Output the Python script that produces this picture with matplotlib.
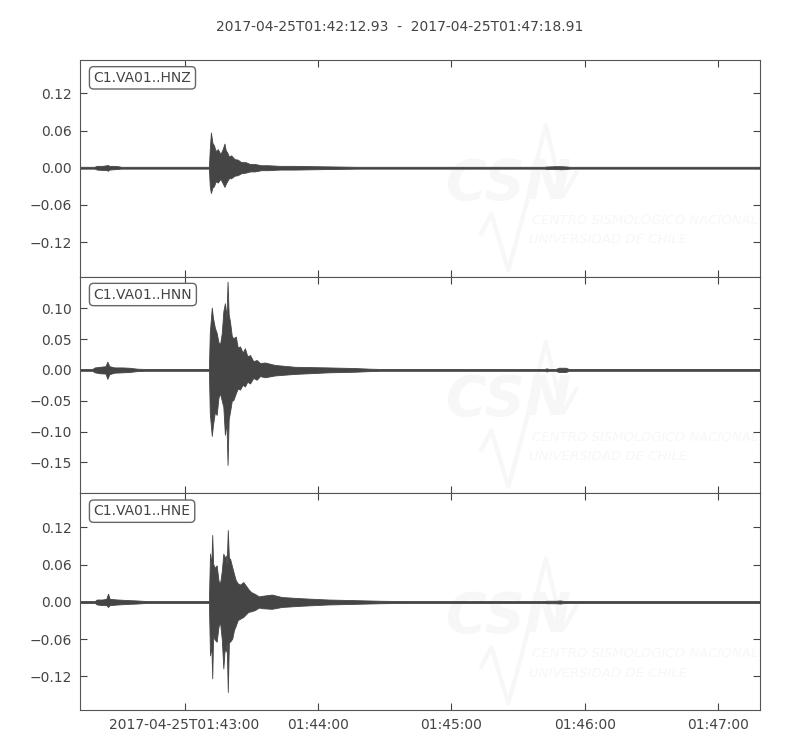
"""Three-component strong-motion record of C1.VA01 (HNZ / HNN / HNE)."""

from datetime import datetime, timedelta

import matplotlib
matplotlib.use("Agg")
import matplotlib.dates as mdates
import matplotlib.pyplot as plt
import numpy as np

STARTTIME = datetime(2017, 4, 25, 1, 42, 12, 930000)
ENDTIME = datetime(2017, 4, 25, 1, 47, 18, 910000)
TITLE = "2017-04-25T01:42:12.93  -  2017-04-25T01:47:18.91"

CHANNELS = ["C1.VA01..HNZ", "C1.VA01..HNN", "C1.VA01..HNE"]

# envelope of each trace: seconds after start, max, min
HNZ_T = [0, 6.5, 7.6, 10.0, 12.1, 12.6, 13.1, 15.0, 17.1, 18.5, 58.0, 58.4,
         58.9, 59.6, 60.3, 61.0, 62.0, 63.2, 64.2, 65.0, 65.6, 66.2, 67.0,
         68.0, 69.5, 71.0, 72.5, 74.5, 76.5, 78.7, 81.5, 84.6, 90.0, 96.7,
         105.0, 115.0, 125.0, 209.0, 210.1, 214.0, 216.5, 219.0, 220.5, 305.98]
HNZ_MAX = [0.0015, 0.0015, 0.003, 0.003, 0.004, 0.0045, 0.003, 0.003, 0.0025,
           0.0015, 0.0015, 0.030, 0.057, 0.040, 0.036, 0.027, 0.030, 0.022,
           0.030, 0.039, 0.028, 0.025, 0.018, 0.020, 0.014, 0.013, 0.009,
           0.009, 0.006, 0.006, 0.004, 0.004, 0.003, 0.003, 0.0025, 0.002,
           0.0015, 0.0015, 0.002, 0.0025, 0.0025, 0.002, 0.0015, 0.0015]
HNZ_MIN = [-0.0015, -0.0015, -0.003, -0.0035, -0.004, -0.005, -0.003, -0.0025,
           -0.002, -0.0015, -0.0015, -0.030, -0.041, -0.032, -0.030, -0.022,
           -0.024, -0.018, -0.025, -0.031, -0.026, -0.022, -0.017, -0.017,
           -0.013, -0.012, -0.009, -0.008, -0.006, -0.006, -0.004, -0.004,
           -0.003, -0.003, -0.0025, -0.002, -0.0015, -0.0015, -0.002, -0.002,
           -0.0025, -0.002, -0.0015, -0.0015]

HNN_T = [0, 5.5, 6.7, 9.0, 11.5, 12.3, 13.2, 15.5, 19.0, 22.0, 25.6, 29.0,
         58.0, 58.4, 59.3, 59.8, 60.7, 61.5, 62.3, 63.0, 63.8, 64.5, 65.2,
         65.9, 66.4, 66.9, 67.5, 68.3, 69.0, 70.1, 71.0, 72.0, 73.2, 74.2,
         75.3, 76.5, 78.0, 79.5, 81.0, 83.2, 87.7, 96.7, 111.6, 123.7, 130.0,
         135.0, 209.0, 210.0, 211.0, 214.0, 215.5, 218.5, 220.0, 305.98]
HNN_MAX = [0.0015, 0.0015, 0.004, 0.005, 0.006, 0.0135, 0.006, 0.004, 0.004,
           0.0035, 0.002, 0.0015, 0.0015, 0.060, 0.101, 0.085, 0.068, 0.060,
           0.045, 0.041, 0.060, 0.095, 0.108, 0.085, 0.143, 0.090, 0.078,
           0.055, 0.051, 0.054, 0.036, 0.038, 0.028, 0.035, 0.022, 0.024,
           0.014, 0.016, 0.011, 0.012, 0.008, 0.005, 0.004, 0.003, 0.002,
           0.0015, 0.0015, 0.0025, 0.0015, 0.0015, 0.0035, 0.0035, 0.0015,
           0.0015]
HNN_MIN = [-0.0015, -0.0015, -0.004, -0.0055, -0.006, -0.0146, -0.007, -0.0045,
           -0.004, -0.0035, -0.002, -0.0015, -0.0015, -0.070, -0.107, -0.090,
           -0.068, -0.073, -0.045, -0.038, -0.050, -0.060, -0.105, -0.085,
           -0.154, -0.080, -0.068, -0.050, -0.049, -0.038, -0.030, -0.032,
           -0.024, -0.027, -0.019, -0.022, -0.013, -0.016, -0.010, -0.012,
           -0.009, -0.0065, -0.004, -0.003, -0.002, -0.0015, -0.0015, -0.0025,
           -0.0015, -0.0015, -0.0035, -0.0035, -0.0015, -0.0015]

HNE_T = [0, 6.7, 7.6, 10.0, 11.8, 12.6, 13.4, 17.0, 22.0, 25.6, 30.0, 58.0,
         58.5, 59.1, 59.5, 59.9, 60.5, 61.5, 62.3, 63.0, 63.8, 64.5, 65.2,
         65.6, 66.0, 66.5, 67.0, 67.5, 68.5, 69.3, 70.1, 71.0, 72.0, 73.5,
         75.7, 77.0, 78.7, 80.5, 82.0, 86.3, 90.8, 99.8, 111.6, 123.7, 135.0,
         145.0, 209.0, 210.1, 214.0, 216.0, 218.0, 305.98]
HNE_MAX = [0.0015, 0.0015, 0.004, 0.004, 0.005, 0.0134, 0.005, 0.004, 0.003,
           0.0025, 0.0015, 0.0015, 0.078, 0.060, 0.108, 0.062, 0.055, 0.059,
           0.035, 0.029, 0.050, 0.078, 0.070, 0.075, 0.060, 0.116, 0.070,
           0.070, 0.056, 0.045, 0.035, 0.030, 0.028, 0.032, 0.021, 0.016,
           0.013, 0.009, 0.010, 0.012, 0.008, 0.006, 0.004, 0.003, 0.002,
           0.0015, 0.0015, 0.002, 0.002, 0.0025, 0.0015, 0.0015]
HNE_MIN = [-0.0015, -0.0015, -0.004, -0.005, -0.005, -0.008, -0.005, -0.004,
           -0.003, -0.0025, -0.0015, -0.0015, -0.086, -0.070, -0.123, -0.054,
           -0.060, -0.064, -0.040, -0.032, -0.060, -0.107, -0.070, -0.080,
           -0.065, -0.145, -0.064, -0.064, -0.059, -0.045, -0.038, -0.029,
           -0.027, -0.024, -0.016, -0.015, -0.013, -0.009, -0.010, -0.011,
           -0.008, -0.006, -0.004, -0.003, -0.002, -0.0015, -0.0015, -0.002,
           -0.002, -0.0025, -0.0015, -0.0015]

YLIMS = [(-0.176, 0.174), (-0.200, 0.151), (-0.174, 0.175)]
YTICKS = [[-0.12, -0.06, 0.0, 0.06, 0.12],
          [-0.15, -0.10, -0.05, 0.0, 0.05, 0.10],
          [-0.12, -0.06, 0.0, 0.06, 0.12]]

XTICK_TIMES = [datetime(2017, 4, 25, 1, m, 0) for m in (43, 44, 45, 46, 47)]
XTICK_LABELS = ["2017-04-25T01:43:00", "01:44:00", "01:45:00", "01:46:00", "01:47:00"]

TRACE_COLOR = "#454545"
TEXT_COLOR = "#444444"
WATERMARK = "#f7f7f7"


def to_dates(seconds):
    return mdates.date2num([STARTTIME + timedelta(seconds=s) for s in seconds])


def add_watermark(ax):
    # faint CSN logo sitting behind every trace
    ax.text(0.63, 0.43, "CSN", transform=ax.transAxes, fontsize=40,
            fontweight="bold", style="italic", color=WATERMARK,
            ha="center", va="center", zorder=0)
    ax.text(0.665, 0.26, "CENTRO SISMOLÓGICO NACIONAL", transform=ax.transAxes,
            fontsize=9.5, style="italic", color=WATERMARK, ha="left",
            va="center", zorder=0)
    ax.text(0.66, 0.17, "UNIVERSIDAD DE CHILE", transform=ax.transAxes,
            fontsize=9.5, style="italic", color=WATERMARK, ha="left",
            va="center", zorder=0)
    ax.plot([0.59, 0.605, 0.63, 0.655, 0.685, 0.71, 0.73],
            [0.20, 0.29, 0.03, 0.32, 0.70, 0.37, 0.48],
            transform=ax.transAxes, color=WATERMARK, lw=3, zorder=0)


def main():
    plt.rcParams.update({
        "font.family": "DejaVu Sans",
        "font.size": 10,
        "axes.edgecolor": "#555555",
        "xtick.color": TEXT_COLOR,
        "ytick.color": TEXT_COLOR,
    })
    fig, axes = plt.subplots(3, 1, figsize=(8.0, 7.5), dpi=100, sharex=True)
    fig.subplots_adjust(left=0.1, right=0.95, top=0.92, bottom=0.0533, hspace=0)

    traces = [(HNZ_T, HNZ_MAX, HNZ_MIN), (HNN_T, HNN_MAX, HNN_MIN), (HNE_T, HNE_MAX, HNE_MIN)]
    for i, (ax, (t, hi, lo)) in enumerate(zip(axes, traces)):
        add_watermark(ax)
        x = to_dates(t)
        ax.fill_between(x, lo, hi, color=TRACE_COLOR, lw=0.6, zorder=2)
        ax.set_ylim(*YLIMS[i])
        ax.set_yticks(YTICKS[i])
        ax.text(0.02, 0.95, CHANNELS[i], transform=ax.transAxes, va="top",
                ha="left", fontsize=10, color=TEXT_COLOR, zorder=5,
                bbox=dict(boxstyle="round,pad=0.3", fc="white", ec="#666666"))
        ax.tick_params(direction="in", top=True, right=True, length=5,
                       labelcolor=TEXT_COLOR, pad=6)

    axes[-1].set_xlim(to_dates([0, (ENDTIME - STARTTIME).total_seconds()]))
    axes[-1].set_xticks(mdates.date2num(XTICK_TIMES), XTICK_LABELS)
    for ax in axes[:-1]:
        ax.tick_params(labelbottom=False)

    fig.suptitle(TITLE, y=0.973, fontsize=10, color=TEXT_COLOR)
    fig.savefig("out.png", dpi=100)
    plt.close(fig)


if __name__ == "__main__":
    main()
